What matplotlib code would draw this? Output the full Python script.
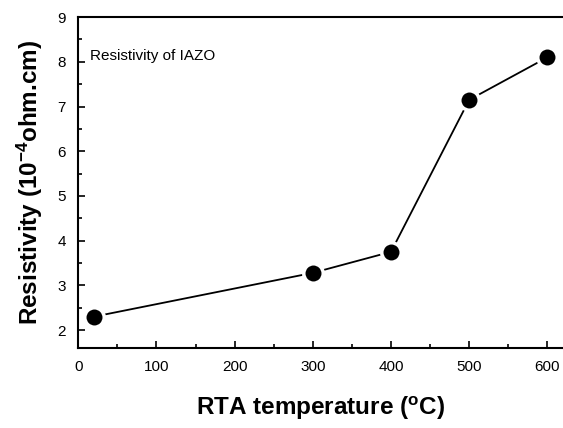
import matplotlib
matplotlib.use('Agg')
import matplotlib.pyplot as plt
from matplotlib.ticker import MultipleLocator

plt.rcParams['font.family'] = ['Liberation Sans', 'DejaVu Sans']

temperature = [20, 300, 400, 500, 600]
resistivity = [2.3, 3.28, 3.75, 7.15, 8.1]

def set_axes(ax):
    ax.set_xlim([0., 620.])
    ax.set_ylim([1.6, 9.])
    ax.xaxis.set_major_locator(MultipleLocator(100))
    ax.xaxis.set_minor_locator(MultipleLocator(50))
    ax.yaxis.set_major_locator(MultipleLocator(1))
    ax.yaxis.set_minor_locator(MultipleLocator(0.5))
    ax.tick_params(which='both', direction='in', top=False, right=False, labelsize=11, width=1.2, pad=9)
    ax.tick_params(which='major', length=5)
    ax.tick_params(which='minor', length=3)
    ax.spines['right'].set_visible(False)
    for s in ['left', 'bottom', 'top']:
        ax.spines[s].set_linewidth(1.5)
    ax.set_xlabel('RTA temperature ($\\mathregular{^{o}}$C)', fontsize=17.5, fontweight='bold', labelpad=15)
    ax.set_ylabel('Resistivity (10$\\mathregular{^{-4}}$ohm.cm)', fontsize=17.5, fontweight='bold', labelpad=9)

def plot_resistivity():
    fig = plt.figure(figsize=(5.63, 4.28), dpi=100)
    ax = fig.add_axes([0.139, 0.187, 0.861, 0.773])
    set_axes(ax)
    ax.plot(temperature, resistivity, color='black', linewidth=1.3, marker='o',
            markersize=14, markerfacecolor='black', markeredgecolor='white',
            markeredgewidth=2.5, clip_on=False)
    ax.text(0.025, 0.87, 'Resistivity of IAZO', transform=ax.transAxes, fontsize=11)
    plt.savefig('out.png', dpi=100)

if __name__ == "__main__":
    plot_resistivity()
